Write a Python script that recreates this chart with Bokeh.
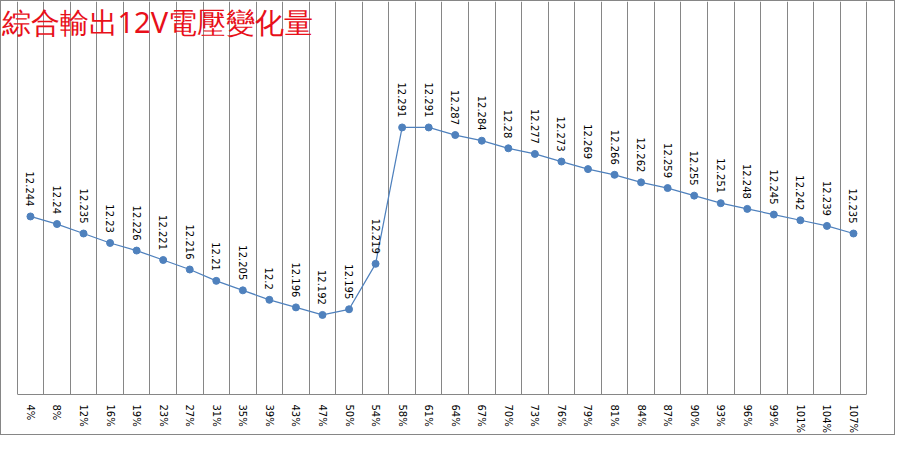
import math
from bokeh.plotting import figure
from bokeh.models import Range1d, FixedTicker, Label, ColumnDataSource
from bokeh.embed import file_html
from bokeh.resources import INLINE
from bokeh.core.properties import value

title_text = "綜合輸出12V電壓變化量"
load_labels = ["4%", "8%", "12%", "16%", "19%", "23%", "27%", "31%", "35%", "39%",
               "43%", "47%", "50%", "54%", "58%", "61%", "64%", "67%", "70%", "73%",
               "76%", "79%", "81%", "84%", "87%", "90%", "93%", "96%", "99%", "101%",
               "104%", "107%"]
voltages = [12.244, 12.24, 12.235, 12.23, 12.226, 12.221, 12.216, 12.21, 12.205, 12.2,
            12.196, 12.192, 12.195, 12.219, 12.291, 12.291, 12.287, 12.284, 12.28, 12.277,
            12.273, 12.269, 12.266, 12.262, 12.259, 12.255, 12.251, 12.248, 12.245, 12.242,
            12.239, 12.235]
y_min, y_max = 12.15, 12.3575

GRID = "#868686"
BLUE = "#4f81bd"
FONT = "DejaVu Sans"

n = len(load_labels)
centers = [i + 0.5 for i in range(n)]          # category centres
boundaries = list(range(n + 1))                # category boundaries

src = ColumnDataSource(dict(x=centers, v=voltages,
                            label=[f"{v:g}" for v in voltages]))

p = figure(width=895, height=435,
           x_range=Range1d(-0.59, n + 1.12),
           y_range=Range1d(y_min, y_max),
           output_backend="svg", toolbar_location=None,
           min_border_left=0, min_border_right=0, min_border_top=0,
           min_border_bottom=42)
p.styles = {"border": f"1px solid {GRID}"}
p.background_fill_color = "white"
p.border_fill_color = "white"
p.outline_line_color = None

p.yaxis.visible = False
p.ygrid.visible = False

xa = p.xaxis[0]
xa.ticker = FixedTicker(ticks=centers)
xa.major_label_overrides = {c: lab for c, lab in zip(centers, load_labels)}
xa.bounds = (0, n)
xa.axis_line_color = GRID
xa.major_tick_line_color = None
xa.minor_tick_line_color = None
xa.major_label_orientation = -math.pi / 2
xa.major_label_standoff = 4
xa.major_label_text_font = FONT
xa.major_label_text_font_size = "10px"
xa.major_label_text_color = "black"

p.xgrid.ticker = FixedTicker(ticks=boundaries)
p.xgrid.grid_line_color = GRID
p.xgrid.grid_line_width = 1
p.xgrid.grid_line_alpha = 1

p.line(x="x", y="v", source=src, line_color=BLUE, line_width=1.25)
p.scatter(x="x", y="v", source=src, size=7, fill_color=BLUE, line_color=BLUE)
p.text(x="x", y="v", text="label", source=src, angle=-math.pi / 2,
       text_align="right", text_baseline="middle", y_offset=-10,
       text_font=value(FONT), text_font_size="10px", text_color="black")

title = Label(x=0, y=393, x_units="screen", y_units="screen", text=title_text,
              text_baseline="top", text_align="left",
              text_font="Noto Sans",
              text_font_size="29px", text_color="#e8101a")
p.add_layout(title)

open("out.html", "w").write(file_html(p, INLINE))
